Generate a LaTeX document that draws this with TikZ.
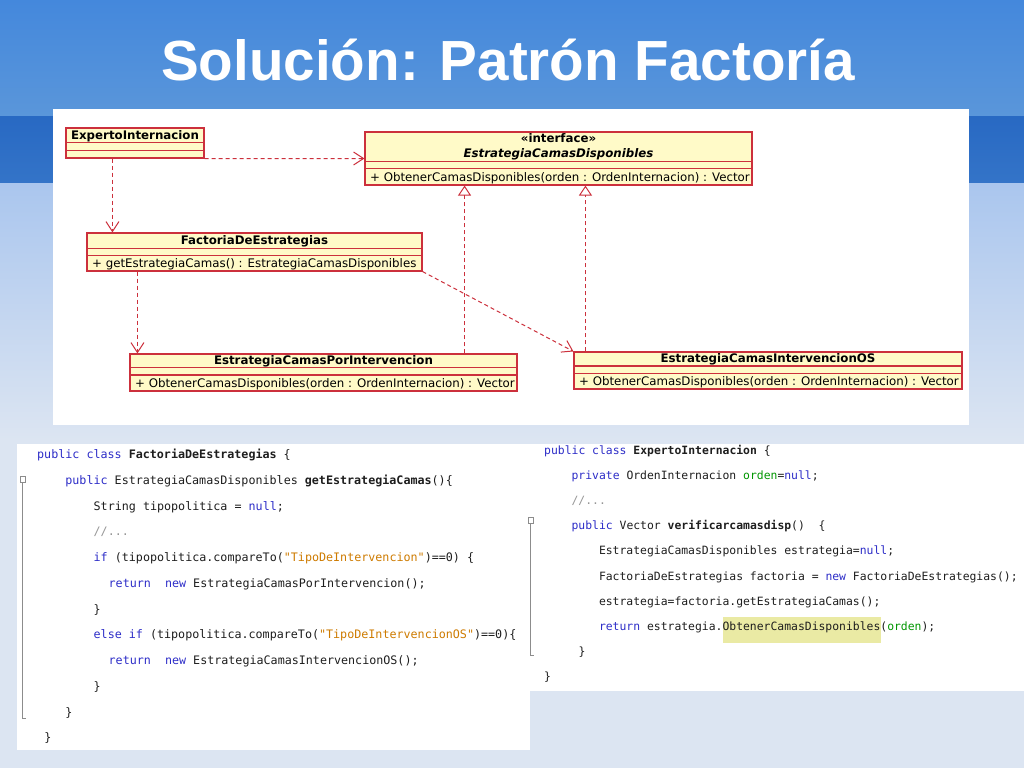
\documentclass[tikz,border=0pt]{standalone}
\usepackage{fontspec}
\usepackage{xcolor}
\usepackage{tikz}
\usetikzlibrary{arrows, arrows.meta, positioning, calc}
\newfontfamily\titlefont{Liberation Sans}
\newfontfamily\umlfont{DejaVu Sans}
\newfontfamily\codefont{DejaVu Sans Mono}
\definecolor{skytop}{RGB}{68,136,220}
\definecolor{skymid}{RGB}{90,150,218}
\definecolor{banddark}{RGB}{40,105,195}
\definecolor{bandlight}{RGB}{52,116,200}
\definecolor{palesky}{RGB}{170,198,238}
\definecolor{palebottom}{RGB}{220,229,242}
\definecolor{umlred}{RGB}{204,48,60}
\definecolor{umlfill}{RGB}{255,250,200}
\definecolor{kwblue}{RGB}{45,45,200}
\definecolor{strorange}{RGB}{206,123,0}
\definecolor{fieldgreen}{RGB}{0,150,0}
\definecolor{cmtgray}{RGB}{150,150,150}
\definecolor{hiliteyellow}{RGB}{234,234,164}
\definecolor{foldgray}{RGB}{140,140,140}
\definecolor{codeink}{RGB}{30,30,30}
\tikzset{
    titletext/.style={font=\titlefont\bfseries\fontsize{56.6}{60}\selectfont, text=white, anchor=base, inner sep=0pt},
    classbox/.style={rectangle, draw=umlred, fill=umlfill, line width=1.1pt, inner sep=0pt},
    divider/.style={draw=umlred, line width=1.1pt},
    classname/.style={font=\umlfont\bfseries\fontsize{11.8}{13}\selectfont, anchor=base, inner sep=0pt},
    member/.style={font=\umlfont\fontsize{11.8}{13}\selectfont, anchor=base west, inner sep=0pt},
    dep/.style={-{Straight Barb[length=10pt, width=13pt]}, umlred, line width=1pt, dash pattern=on 4pt off 3pt},
    realize/.style={-{Triangle[open, length=10pt, width=13pt]}, umlred, line width=1pt, dash pattern=on 4pt off 3pt},
    codeleft/.style={font=\codefont\fontsize{11.7}{14}\selectfont, text=codeink, anchor=base west, inner sep=0pt},
    coderight/.style={font=\codefont\fontsize{11.4}{14}\selectfont, text=codeink, anchor=base west, inner sep=0pt},
    hilite/.style={rectangle, fill=hiliteyellow, draw=none, inner sep=0pt},
    fold/.style={draw=foldgray, line width=0.8pt}
}

\begin{document}
\begin{tikzpicture}[x=1pt, y=-1pt]
    \useasboundingbox (0,0) rectangle (1024,768);

    % Background
    \shade[top color=skytop, bottom color=skymid] (0,0) rectangle (1024,116);
    \shade[top color=banddark, bottom color=bandlight] (0,116) rectangle (1024,183);
    \shade[top color=palesky, bottom color=palebottom] (0,183) rectangle (1024,440);
    \fill[palebottom] (0,440) rectangle (1024,768);

    % Title
    \node[titletext] (title) at (508,80.5) {Solución: Patrón Factoría};

    % Panels
    \fill[white] (53,109) rectangle (969,425);
    \fill[white] (17,444) rectangle (530,750);
    \fill[white] (530,444) rectangle (1024,691);

    % Classes
    \node[classbox, minimum width=138pt, minimum height=30pt] (expert) at (135,143) {};
    \node[classname] (expertname) at (135,139.5) {ExpertoInternacion};
    \draw[divider] ([yshift=-15pt]expert.north west) -- ([yshift=-15pt]expert.north east);
    \draw[divider] ([yshift=-23pt]expert.north west) -- ([yshift=-23pt]expert.north east);

    \node[classbox, minimum width=387pt, minimum height=53pt] (iface) at (558.5,158.5) {};
    \node[classname] (ifacestereo) at (558.5,142.5) {«interface»};
    \node[classname, font=\umlfont\bfseries\itshape\fontsize{11.8}{13}\selectfont] (ifacename) at (558.5,157.5) {EstrategiaCamasDisponibles};
    \draw[divider] ([yshift=-30pt]iface.north west) -- ([yshift=-30pt]iface.north east);
    \draw[divider] ([yshift=-37pt]iface.north west) -- ([yshift=-37pt]iface.north east);
    \node[member] (ifaceop) at (370,181) {+ ObtenerCamasDisponibles(orden : OrdenInternacion) : Vector};

    \node[classbox, minimum width=335pt, minimum height=38pt] (factoria) at (254.5,252) {};
    \node[classname] (factorianame) at (254.5,244.5) {FactoriaDeEstrategias};
    \draw[divider] ([yshift=-16pt]factoria.north west) -- ([yshift=-16pt]factoria.north east);
    \draw[divider] ([yshift=-23pt]factoria.north west) -- ([yshift=-23pt]factoria.north east);
    \node[member] (factoriaop) at (92,267) {+ getEstrategiaCamas() : EstrategiaCamasDisponibles};

    \node[classbox, minimum width=387pt, minimum height=37pt] (porint) at (323.5,372.5) {};
    \node[classname] (porintname) at (323.5,364) {EstrategiaCamasPorIntervencion};
    \draw[divider] ([yshift=-14pt]porint.north west) -- ([yshift=-14pt]porint.north east);
    \draw[divider] ([yshift=-21.5pt]porint.north west) -- ([yshift=-21.5pt]porint.north east);
    \node[member] (porintop) at (135,387) {+ ObtenerCamasDisponibles(orden : OrdenInternacion) : Vector};

    \node[classbox, minimum width=388pt, minimum height=37pt] (osint) at (768,370.5) {};
    \node[classname] (osintname) at (768,362) {EstrategiaCamasIntervencionOS};
    \draw[divider] ([yshift=-14.5pt]osint.north west) -- ([yshift=-14.5pt]osint.north east);
    \draw[divider] ([yshift=-22pt]osint.north west) -- ([yshift=-22pt]osint.north east);
    \node[member] (osintop) at (579,385) {+ ObtenerCamasDisponibles(orden : OrdenInternacion) : Vector};

    % Dependencies
    \coordinate (expertfoot) at ([xshift=47pt]expert.south west);
    \coordinate (factoriafoot) at ([xshift=51pt]factoria.south west);
    \coordinate (porinthead) at ([xshift=-53pt]porint.north east);
    \coordinate (osinthead) at ([xshift=12pt]osint.north west);
    \draw[dep] (expert.south east) -- (iface.west);
    \draw[dep] (expertfoot) -- (expertfoot |- factoria.north);
    \draw[dep] (factoriafoot) -- (factoriafoot |- porint.north);
    \draw[dep] (factoria.south east) -- (osint.north west);
    \draw[realize] (porinthead) -- (porinthead |- iface.south);
    \draw[realize] (osinthead) -- (osinthead |- iface.south);

    % Code: FactoriaDeEstrategias
    \draw[fold] (20,476) rectangle (25,482);
    \draw[fold] (22.5,482) -- (22.5,718) -- (26,718);
    \node[codeleft] (fl1) at (37,458.5) {\textcolor{kwblue}{public class} \textbf{FactoriaDeEstrategias} \{};
    \node[codeleft] (fl2) at (65.2,484.2) {\textcolor{kwblue}{public} EstrategiaCamasDisponibles \textbf{getEstrategiaCamas}()\{};
    \node[codeleft] (fl3) at (93.5,510) {String tipopolitica = \textcolor{kwblue}{null};};
    \node[codeleft] (fl4) at (93.5,535.7) {\textcolor{cmtgray}{//...}};
    \node[codeleft] (fl5) at (93.5,561.5) {\textcolor{kwblue}{if} (tipopolitica.compareTo(\textcolor{strorange}{"TipoDeIntervencion"})==0) \{};
    \node[codeleft] (fl6) at (108.5,587.2) {\textcolor{kwblue}{return}\ \ \textcolor{kwblue}{new} EstrategiaCamasPorIntervencion();};
    \node[codeleft] (fl7) at (93.5,613) {\}};
    \node[codeleft] (fl8) at (93.5,638.7) {\textcolor{kwblue}{else if} (tipopolitica.compareTo(\textcolor{strorange}{"TipoDeIntervencionOS"})==0)\{};
    \node[codeleft] (fl9) at (108.5,664.5) {\textcolor{kwblue}{return}\ \ \textcolor{kwblue}{new} EstrategiaCamasIntervencionOS();};
    \node[codeleft] (fl10) at (93.5,690.2) {\}};
    \node[codeleft] (fl11) at (65.2,716) {\}};
    \node[codeleft] (fl12) at (44.1,741.7) {\}};

    % Code: ExpertoInternacion
    \draw[fold] (528,517) rectangle (533,523);
    \draw[fold] (530.5,523) -- (530.5,655) -- (534,655);
    \node[hilite, minimum width=158pt, minimum height=26pt, anchor=north west] (hl) at (723,617) {};
    \node[coderight] (el1) at (544,454.5) {\textcolor{kwblue}{public class} \textbf{ExpertoInternacion} \{};
    \node[coderight] (el2) at (571.4,479.6) {\textcolor{kwblue}{private} OrdenInternacion \textcolor{fieldgreen}{orden}=\textcolor{kwblue}{null};};
    \node[coderight] (el3) at (571.4,504.7) {\textcolor{cmtgray}{//...}};
    \node[coderight] (el4) at (571.4,529.8) {\textcolor{kwblue}{public} Vector \textbf{verificarcamasdisp}()\ \ \{};
    \node[coderight] (el5) at (598.8,554.9) {EstrategiaCamasDisponibles estrategia=\textcolor{kwblue}{null};};
    \node[coderight] (el6) at (598.8,580) {FactoriaDeEstrategias factoria = \textcolor{kwblue}{new} FactoriaDeEstrategias();};
    \node[coderight] (el7) at (598.8,605.1) {estrategia=factoria.getEstrategiaCamas();};
    \node[coderight] (el8) at (598.8,630.2) {\textcolor{kwblue}{return} estrategia.ObtenerCamasDisponibles(\textcolor{fieldgreen}{orden});};
    \node[coderight] (el9) at (578.3,655.3) {\}};
    \node[coderight] (el10) at (544,680.4) {\}};
\end{tikzpicture}
\end{document}
